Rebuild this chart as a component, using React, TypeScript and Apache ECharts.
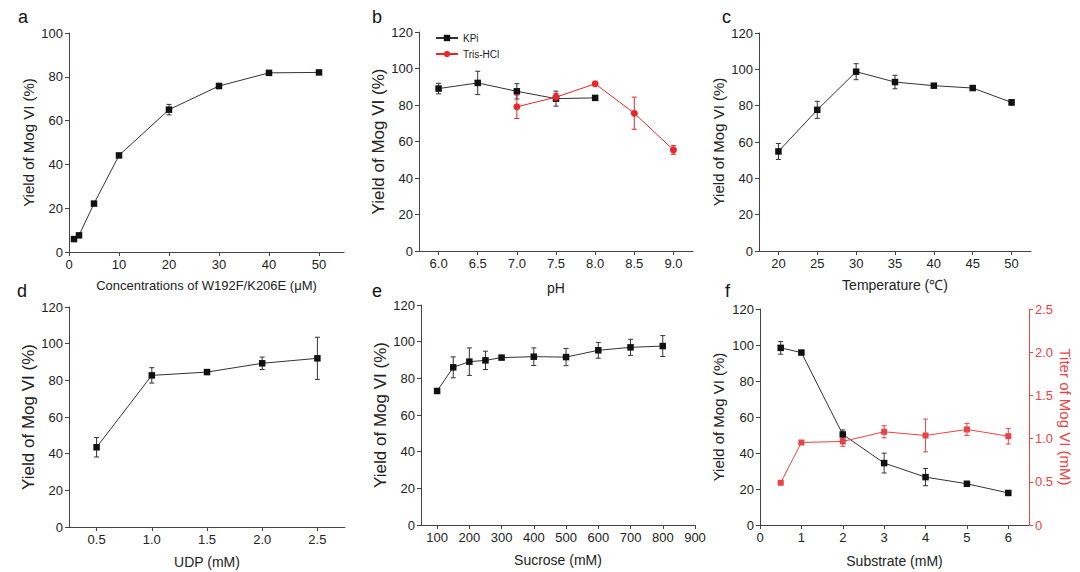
import React, { useEffect, useRef } from "react";
import * as echarts from "echarts";

// Panel a
const aX = [1, 2, 5, 10, 20, 30, 40, 50];
const aY = [5.9, 7.6, 22.1, 44.1, 65.0, 75.8, 81.8, 82.0];
const aErr = [0.6, 0.8, 0.6, 0.6, 2.4, 1.2, 0.6, 0.8];
const aTicks = [0, 10, 20, 30, 40, 50];

// Panel b
const kpiX = [6.0, 6.5, 7.0, 7.5, 8.0];
const kpiY = [89.0, 92.1, 87.5, 83.5, 83.9];
const kpiErr = [2.9, 6.4, 4.2, 4.1, 0.6];
const trisX = [7.0, 7.5, 8.0, 8.5, 9.0];
const trisY = [79.0, 84.3, 91.6, 75.5, 55.4];
const trisErr = [6.4, 2.0, 1.0, 8.8, 2.4];
const bTicks = [6.0, 6.5, 7.0, 7.5, 8.0, 8.5, 9.0];

// Panel c
const cX = [20, 25, 30, 35, 40, 45, 50];
const cY = [54.8, 77.7, 98.7, 93.0, 91.0, 89.7, 81.8];
const cErr = [4.4, 4.7, 4.4, 3.7, 0.6, 1.2, 1.5];
const cTicks = [20, 25, 30, 35, 40, 45, 50];

// Panel d
const dX = [0.5, 1.0, 1.5, 2.0, 2.5];
const dY = [43.5, 82.7, 84.5, 89.3, 92.0];
const dErr = [5.3, 4.2, 1.3, 3.4, 11.5];
const dTicks = [0.5, 1.0, 1.5, 2.0, 2.5];

// Panel e
const eX = [100, 150, 200, 250, 300, 400, 500, 600, 700, 800];
const eY = [73.1, 86.0, 89.1, 89.8, 91.3, 91.8, 91.6, 95.3, 96.9, 97.6];
const eErr = [0.5, 5.7, 7.5, 5.0, 1.0, 4.8, 4.7, 4.3, 4.4, 5.7];
const eTicks = [100, 200, 300, 400, 500, 600, 700, 800, 900];

// Panel f
const fX = [0.5, 1, 2, 3, 4, 5, 6];
const fYield = [98.4, 95.8, 50.3, 34.4, 26.6, 22.9, 17.8];
const fYieldErr = [3.5, 1.0, 2.5, 5.5, 4.8, 1.0, 1.0];
const fTiter = [0.489, 0.955, 0.967, 1.079, 1.036, 1.106, 1.028];
const fTiterErr = [0, 0, 0.056, 0.07, 0.19, 0.07, 0.09];
const fTicks = [0, 1, 2, 3, 4, 5, 6];

const FONT = "'Liberation Sans', Arial, sans-serif";
const AXIS = "#444";
const TEXT = "#222";
const RED_B = "#e8262c";
const RED_F = "#e84346";

const zip = (xs: number[], ys: number[]) => xs.map((x, i) => [x, ys[i]]);

function errSeries(xs: number[], ys: number[], es: number[], xi: number, yi: number, color: string) {
  return {
    type: "custom",
    xAxisIndex: xi,
    yAxisIndex: yi,
    silent: true,
    z: 2,
    data: xs.map((x, i) => [x, ys[i] - es[i], ys[i] + es[i]]),
    encode: { x: 0, y: [1, 2] },
    renderItem: (_p: any, api: any) => {
      const lo = api.coord([api.value(0), api.value(1)]);
      const hi = api.coord([api.value(0), api.value(2)]);
      const w = 2.5;
      const st = { stroke: color, lineWidth: 1 };
      return {
        type: "group",
        children: [
          { type: "line", shape: { x1: lo[0], y1: lo[1], x2: hi[0], y2: hi[1] }, style: st },
          { type: "line", shape: { x1: hi[0] - w, y1: hi[1], x2: hi[0] + w, y2: hi[1] }, style: st },
          { type: "line", shape: { x1: lo[0] - w, y1: lo[1], x2: lo[0] + w, y2: lo[1] }, style: st },
        ],
      };
    },
  };
}

function lineSeries(name: string, xs: number[], ys: number[], xi: number, yi: number, color: string, lineColor: string, symbol = "rect", size = 6.5) {
  return {
    name,
    type: "line",
    xAxisIndex: xi,
    yAxisIndex: yi,
    data: zip(xs, ys),
    symbol,
    symbolSize: size,
    z: 3,
    itemStyle: { color },
    lineStyle: { color: lineColor, width: 1 },
  };
}

const baseAxis = (color = AXIS) => ({
  axisLine: { show: true, onZero: false, lineStyle: { color, width: 1 } },
  axisTick: { show: true, inside: false, length: 4, lineStyle: { color, width: 1 } },
  splitLine: { show: false },
});

function xAxis(gi: number, min: number, max: number, ticks: number[], name: string, fmt: (v: number) => string, nameSize = 14, nameGap = 27) {
  return {
    type: "value",
    gridIndex: gi,
    min,
    max,
    ...baseAxis(),
    axisTick: { show: true, inside: false, length: 4, lineStyle: { color: AXIS, width: 1 }, customValues: ticks },
    axisLabel: { color: TEXT, fontSize: 13, fontFamily: FONT, margin: 6, customValues: ticks, formatter: fmt },
    name,
    nameLocation: "middle",
    nameGap,
    nameTextStyle: { color: TEXT, fontSize: nameSize, fontFamily: FONT },
  };
}

function yAxis(gi: number, max: number, nameGap: number, nameSize = 15) {
  return {
    type: "value",
    gridIndex: gi,
    min: 0,
    max,
    interval: 20,
    ...baseAxis(),
    axisLabel: { color: TEXT, fontSize: 13, fontFamily: FONT, margin: 6 },
    name: "Yield of Mog VI (%)",
    nameLocation: "middle",
    nameGap,
    nameTextStyle: { color: TEXT, fontSize: nameSize, fontFamily: FONT },
  };
}

const intFmt = (v: number) => String(Math.round(v));
const oneDec = (v: number) => v.toFixed(1);

export default function App() {
  const ref = useRef<HTMLDivElement>(null);
  useEffect(() => {
    if (!ref.current) return;
    const chart = echarts.init(ref.current, null, { renderer: "svg" });
    const letters = [
      ["a", 18, 17],
      ["b", 372, 17],
      ["c", 722, 17],
      ["d", 17, 291],
      ["e", 372, 291],
      ["f", 725, 291],
    ];
    chart.setOption({
      animation: false,
      backgroundColor: "#fff",
      textStyle: { fontFamily: FONT },
      grid: [
        { left: 69, top: 33, width: 275, height: 219 },
        { left: 419, top: 32, width: 274, height: 219 },
        { left: 759, top: 33, width: 272, height: 218 },
        { left: 69, top: 307, width: 276, height: 220 },
        { left: 421, top: 305, width: 274, height: 220 },
        { left: 760, top: 309, width: 269, height: 216 },
      ],
      xAxis: [
        xAxis(0, 0, 55, aTicks, "Concentrations of W192F/K206E (μM)", intFmt, 13, 27),
        xAxis(1, 5.75, 9.25, bTicks, "pH", oneDec, 14, 30),
        xAxis(2, 17.5, 52.5, cTicks, "Temperature (℃)", intFmt, 14, 27),
        xAxis(3, 0.25, 2.75, dTicks, "UDP (mM)", oneDec, 14, 28),
        xAxis(4, 50, 900, eTicks, "Sucrose (mM)", intFmt, 14, 28),
        xAxis(5, 0, 6.5, fTicks, "Substrate (mM)", intFmt, 14, 29),
      ],
      yAxis: [
        yAxis(0, 100, 33, 15),
        yAxis(1, 120, 30, 17),
        yAxis(2, 120, 33, 15),
        yAxis(3, 120, 27, 17),
        yAxis(4, 120, 28, 17),
        yAxis(5, 120, 34, 15),
        {
          type: "value",
          gridIndex: 5,
          position: "right",
          min: 0,
          max: 2.5,
          interval: 0.5,
          ...baseAxis(RED_F),
          axisLabel: {
            color: RED_F,
            fontSize: 13,
            fontFamily: FONT,
            margin: 6,
            formatter: (v: number) => (v === 0 ? "0" : v.toFixed(1)),
          },
          name: "Titer of Mog VI (mM)",
          nameLocation: "middle",
          nameRotate: -90,
          nameGap: 29,
          nameTextStyle: { color: RED_F, fontSize: 15, fontFamily: FONT },
        },
      ],
      legend: {
        data: ["KPi", "Tris-HCl"],
        orient: "vertical",
        left: 430,
        top: 28,
        itemWidth: 22,
        itemHeight: 8,
        itemGap: 6,
        textStyle: { fontSize: 10, color: TEXT, fontFamily: FONT },
      },
      graphic: letters.map(([t, x, y]) => ({
        type: "text",
        x,
        y,
        style: { text: t, fontSize: 18, fill: "#111", fontFamily: FONT, verticalAlign: "middle", align: "left" },
      })),
      series: [
        errSeries(aX, aY, aErr, 0, 0, "#333"),
        lineSeries("a", aX, aY, 0, 0, "#111", "#333"),
        errSeries(kpiX, kpiY, kpiErr, 1, 1, "#333"),
        lineSeries("KPi", kpiX, kpiY, 1, 1, "#111", "#333"),
        errSeries(trisX, trisY, trisErr, 1, 1, RED_B),
        lineSeries("Tris-HCl", trisX, trisY, 1, 1, RED_B, RED_B, "circle", 7),
        errSeries(cX, cY, cErr, 2, 2, "#333"),
        lineSeries("c", cX, cY, 2, 2, "#111", "#333"),
        errSeries(dX, dY, dErr, 3, 3, "#333"),
        lineSeries("d", dX, dY, 3, 3, "#111", "#333"),
        errSeries(eX, eY, eErr, 4, 4, "#333"),
        lineSeries("e", eX, eY, 4, 4, "#111", "#333"),
        errSeries(fX, fYield, fYieldErr, 5, 5, "#333"),
        lineSeries("f yield", fX, fYield, 5, 5, "#111", "#333"),
        errSeries(fX, fTiter, fTiterErr, 5, 6, RED_F),
        lineSeries("f titer", fX, fTiter, 5, 6, RED_F, RED_F, "rect", 6),
      ],
    });
    return () => chart.dispose();
  }, []);
  return (
    <div
      ref={ref}
      style={{ position: "fixed", left: 0, top: 0, width: 1080, height: 572, background: "#fff" }}
    />
  );
}
